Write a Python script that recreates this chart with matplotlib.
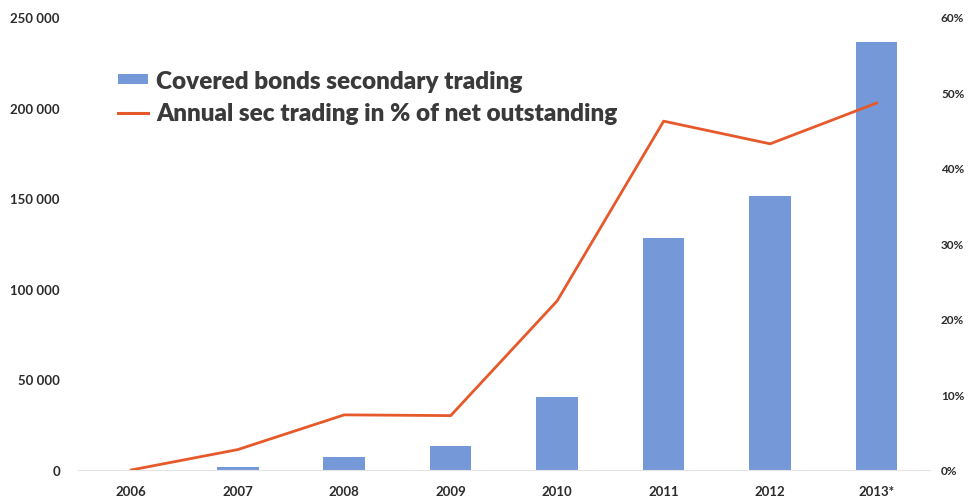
import matplotlib
matplotlib.use("Agg")
import matplotlib.pyplot as plt
from matplotlib.ticker import FuncFormatter, MultipleLocator
from matplotlib.lines import Line2D
from matplotlib.patches import Patch

# Data
years = ["2006", "2007", "2008", "2009", "2010", "2011", "2012", "2013*"]
secondary_trading = [0, 1500, 7000, 13000, 40000, 128000, 151000, 236000]
pct_of_outstanding = [0.0, 2.7, 7.3, 7.2, 22.4, 46.2, 43.2, 48.6]

bar_color = "#7598d8"
line_color = "#e6592b"
text_color = "#2b2b2b"

plt.rcParams["font.family"] = ["Lato", "DejaVu Sans"]

fig = plt.figure(figsize=(9.68, 5.02), dpi=100)
ax = fig.add_axes([0.0806, 0.0618, 0.88, 0.9024])
ax2 = ax.twinx()

x = list(range(len(years)))
ax.bar(x, secondary_trading, width=0.39, color=bar_color, zorder=2)
ax2.plot(x, pct_of_outstanding, color=line_color, linewidth=2.0, zorder=3)

ax.set_xlim(-0.5, len(years) - 0.5)
ax.set_ylim(0, 250000)
ax2.set_ylim(0, 60)

ax.yaxis.set_major_locator(MultipleLocator(50000))
ax2.yaxis.set_major_locator(MultipleLocator(10))
ax.yaxis.set_major_formatter(FuncFormatter(lambda v, p: f"{int(v):,}".replace(",", " ")))
ax2.yaxis.set_major_formatter(FuncFormatter(lambda v, p: f"{int(v)}%"))

ax.set_xticks(x)
ax.set_xticklabels(years)

for a in (ax, ax2):
    for s in a.spines.values():
        s.set_visible(False)
    a.tick_params(length=0, colors=text_color)

ax.spines["bottom"].set_visible(True)
ax.spines["bottom"].set_color("#e4e4e4")
ax.spines["bottom"].set_linewidth(0.8)

ax.tick_params(axis="y", labelsize=9.5, pad=13)
ax.tick_params(axis="x", labelsize=9.5, pad=11)
ax2.tick_params(axis="y", labelsize=8.5, pad=8)
for lab in ax.get_xticklabels() + ax.get_yticklabels() + ax2.get_yticklabels():
    lab.set_fontweight("bold")

handles = [
    Patch(facecolor=bar_color, edgecolor="none"),
    Line2D([], [], color=line_color, linewidth=2.2),
]
labels = ["Covered bonds secondary trading",
          "Annual sec trading in % of net outstanding"]
leg = ax2.legend(handles, labels, loc="upper left",
                 bbox_to_anchor=(0.035, 0.905), frameon=False,
                 prop={"family": ["Lato", "DejaVu Sans"], "weight": "heavy", "size": 17.5},
                 handlelength=1.25, handleheight=0.3, handletextpad=0.35,
                 labelspacing=0.42, labelcolor="#3a3a3a", borderaxespad=0.0)

fig.savefig("out.png", dpi=100, facecolor="white")
